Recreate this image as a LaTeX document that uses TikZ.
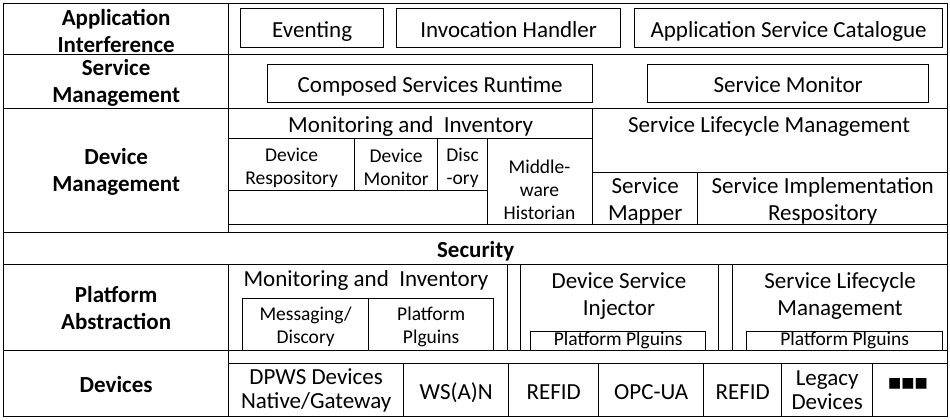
\documentclass[tikz,border=0pt]{standalone}
\usepackage{fontspec}
\setmainfont{Carlito}
\newfontfamily\djv{DejaVu Sans}
\newcommand\szmain{\fontsize{23}{27}\selectfont}
\newcommand\szdev{\fontsize{23}{24}\selectfont}
\newcommand\szsmall{\fontsize{19.5}{23}\selectfont}
\newcommand\mystrut{\rule[-0.2em]{0pt}{1.17em}}
\begin{document}
\begin{tikzpicture}[x=1pt,y=-1pt,
  bx/.style={draw, line width=1.3pt, inner sep=0pt, anchor=north west, align=center, font=\szmain,
    execute at begin node={\mystrut}, execute at end node={\mystrut}},
  pbx/.style={draw, line width=1.3pt, inner sep=0pt, anchor=north west, font=\szsmall,
    text height=13pt, text depth=4pt},
  lab/.style={bx, font=\szmain\bfseries},
  mt/.style={inner sep=0pt, align=center, font=\szmain},
  mts/.style={mt, font=\szsmall},
  mtd/.style={mt, font=\szdev},
  mtb/.style={mt, font=\szmain\bfseries}]
\useasboundingbox (0,0) rectangle (950,420);
% row frames
\node[lab, minimum width=225pt, minimum height=51pt] (lab1) at (3,3) {};
\node[mtb] (lab1t) at ([yshift=-2pt]lab1.center) {Application\\Interference};
\node[lab, minimum width=225pt, minimum height=54pt] (lab2) at (3,54) {};
\node[mtb] (lab2t) at ([yshift=-1.5pt]lab2.center) {Service\\Management};
\node[lab, minimum width=225pt, minimum height=124pt] (lab3) at (3,108) {};
\node[mtb] (lab3t) at ([yshift=-1.5pt]lab3.center) {Device\\Management};
\node[lab, minimum width=944pt, minimum height=32pt] (sec) at (3,232) {Security};
\node[lab, minimum width=225pt, minimum height=86pt] (lab5) at (3,264) {};
\node[mtb] (lab5t) at (lab5.center) {Platform\\Abstraction};
\node[lab, minimum width=225pt, minimum height=66pt] (lab6) at (3,350) {Devices};
\node[bx, minimum width=719pt, minimum height=51pt] (r1) at (228,3) {};
\node[bx, minimum width=719pt, minimum height=54pt] (r2) at (228,54) {};
\node[bx, minimum width=719pt, minimum height=124pt] (r3) at (228,108) {};
\node[bx, minimum width=719pt, minimum height=86pt] (r5) at (228,264) {};
\node[bx, minimum width=719pt, minimum height=66pt] (r6) at (228,350) {};
% application interference
\node[bx, minimum width=143pt, minimum height=39pt] (ev) at (240,8) {Eventing};
\node[bx, minimum width=224pt, minimum height=39pt] (inv) at (396,8) {Invocation Handler};
\node[bx, minimum width=308pt, minimum height=39pt] (asc) at (634,8) {Application Service Catalogue};
% service management
\node[bx, minimum width=325pt, minimum height=38pt] (csr) at (267,64) {Composed Services Runtime};
\node[bx, minimum width=281pt, minimum height=38pt] (smon) at (647,64) {Service Monitor};
% device management
\node[bx, minimum width=364pt, minimum height=30pt] (dmmon) at (228,108) {Monitoring and~~Inventory};
\node[bx, minimum width=126pt, minimum height=52pt] (devrep) at (228,138) {};
\node[mts] (devrept) at ([yshift=-3pt]devrep.center) {Device\\Respository};
\node[bx, minimum width=83pt, minimum height=52pt] (devmon) at (354,138) {};
\node[mts] (devmont) at ([yshift=-3pt]devmon.center) {Device\\Monitor};
\node[bx, minimum width=50pt, minimum height=52pt] (disc) at (437,138) {};
\node[mts] (disct) at ([yshift=-3pt]disc.center) {Disc\\-ory};
\node[bx, minimum width=105pt, minimum height=86pt] (mwh) at (487,138) {};
\node[mts] (mwht) at (539.5,190) {Middle-\\ware\\Historian};
\node[bx, minimum width=259pt, minimum height=34pt] (dmempty) at (228,190) {};
\node[bx, minimum width=355pt, minimum height=64pt] (slmarea) at (592,108) {};
\node[mt] (slmt) at (769,126) {Service Lifecycle Management};
\node[bx, minimum width=105pt, minimum height=52pt] (smap) at (592,172) {};
\node[mt] (smapt) at ([yshift=-2pt]smap.center) {Service\\Mapper};
\node[bx, minimum width=250pt, minimum height=52pt] (simp) at (697,172) {};
\node[mt] (simpt) at ([yshift=-2pt]simp.center) {Service Implementation\\Respository};
% platform abstraction
\node[bx, minimum width=279pt, minimum height=86pt] (pamon) at (228,264) {};
\node[mt] (pamont) at (366,280) {Monitoring and~~Inventory};
\node[bx, minimum width=126pt, minimum height=52pt] (msg) at (242,298) {};
\node[mts] (msgt) at ([yshift=-2.5pt]msg.center) {Messaging/\\Discory};
\node[bx, minimum width=125pt, minimum height=52pt] (ppl1) at (368,298) {};
\node[mts] (ppl1t) at ([yshift=-2.5pt]ppl1.center) {Platform\\Plguins};
\node[bx, minimum width=198pt, minimum height=86pt] (dsi) at (520,264) {};
\node[mt] (dsit) at (619,296) {Device Service\\Injector};
\node[pbx, minimum width=175pt, minimum height=19pt] (ppl2) at (530,331) {Platform Plguins};
\node[bx, minimum width=215pt, minimum height=86pt] (slm2) at (732,264) {};
\node[mt] (slm2t) at (840,296) {Service Lifecycle\\Management};
\node[pbx, minimum width=196pt, minimum height=19pt] (ppl3) at (746,331) {Platform Plguins};
% devices
\node[bx, minimum width=175pt, minimum height=53pt] (dpws) at (228,363) {};
\node[mtd] (dpwst) at (dpws.center) {DPWS Devices\\Native/Gateway};
\node[bx, minimum width=105pt, minimum height=53pt] (wsan) at (403,363) {WS(A)N};
\node[bx, minimum width=90pt, minimum height=53pt] (refid1) at (508,363) {REFID};
\node[bx, minimum width=105pt, minimum height=53pt] (opc) at (598,363) {OPC-UA};
\node[bx, minimum width=78pt, minimum height=53pt] (refid2) at (703,363) {REFID};
\node[bx, minimum width=91pt, minimum height=53pt] (legacy) at (781,363) {};
\node[mtd] (legacyt) at (legacy.center) {Legacy\\Devices};
\node[bx, minimum width=75pt, minimum height=53pt] (more) at (872,363) {};
\node[inner sep=0pt, font=\djv\fontsize{14}{14}\selectfont] (dots) at (908,384) {■■■};
\end{tikzpicture}
\end{document}
